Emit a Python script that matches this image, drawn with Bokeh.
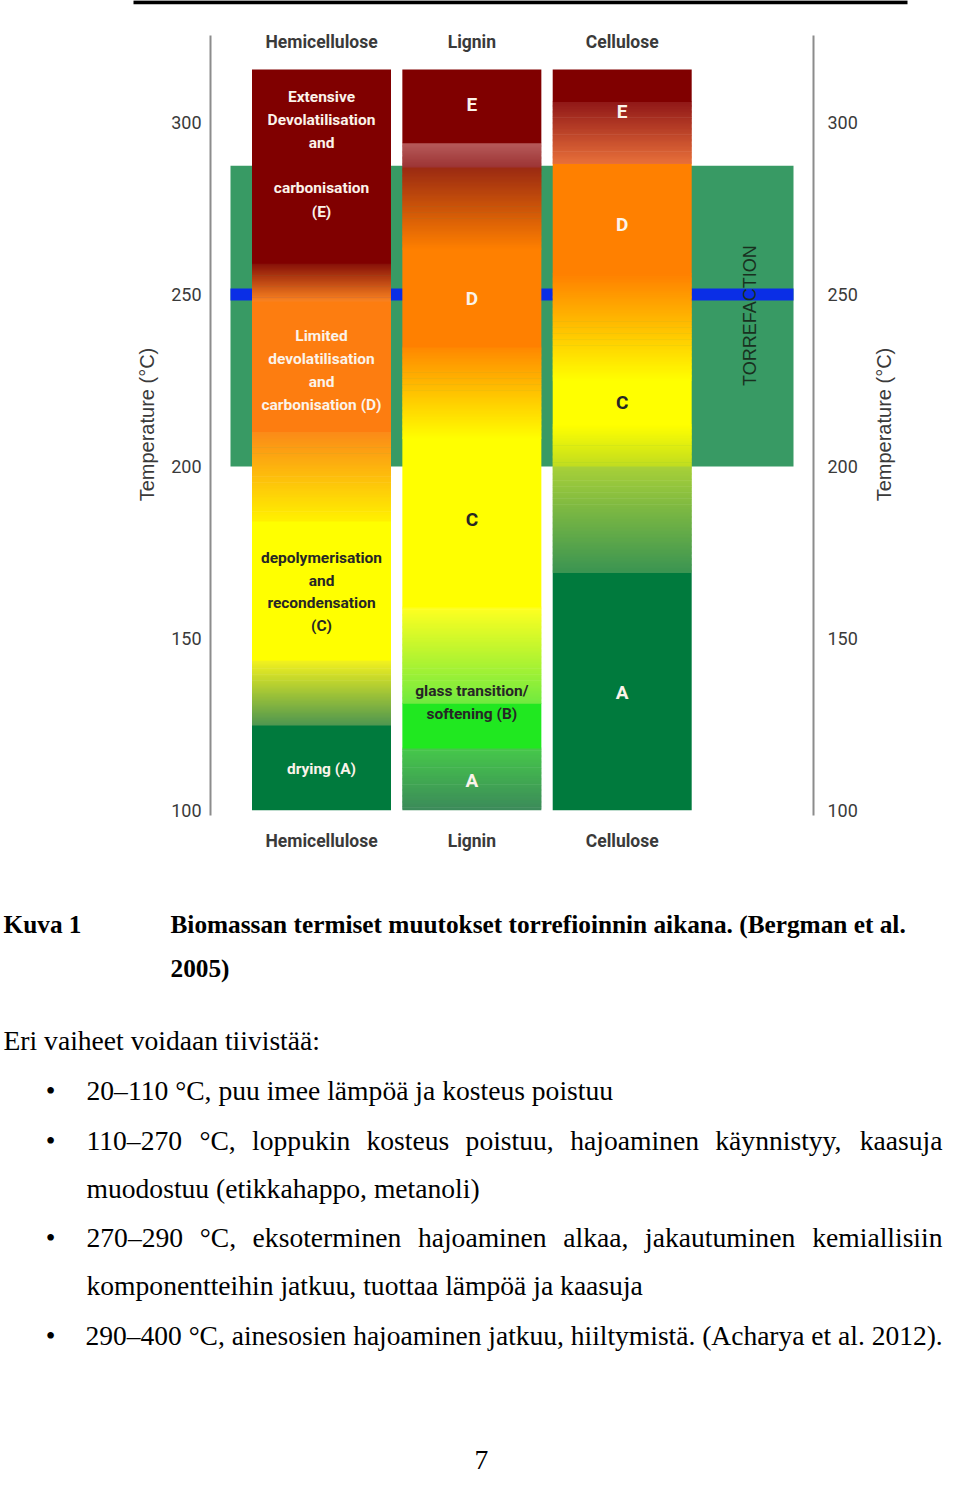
import math
from bokeh.plotting import figure
from bokeh.layouts import column
from bokeh.models import Range1d, ColumnDataSource
from bokeh.core.properties import value
from bokeh.embed import file_html
from bokeh.resources import INLINE

# ------------------------------------------------------------------ data
categories = ["Hemicellulose", "Lignin", "Cellulose"]
temperature_ticks = [100, 150, 200, 250, 300]

# zone boundaries (°C) for each component, bottom to top
hemicellulose_bounds = [100, 124.7, 143.6, 184, 210, 248, 259, 315.5]
lignin_bounds = [100, 118, 131, 159, 208, 234.6, 263, 287, 294, 315.5]
cellulose_bounds = [100, 169, 200, 212, 225, 256, 288, 306, 315.5]

torrefaction_range = [200, 287.5]
marker_temperature = 250

# labels inside the bars: (text, temperature)
hemicellulose_labels = [
    ("Extensive", 307.6), ("Devolatilisation", 300.9), ("and", 294.2),
    ("carbonisation", 280.9), ("(E)", 273.9),
    ("Limited", 238.1), ("devolatilisation", 231.4), ("and", 224.7),
    ("carbonisation (D)", 218.0),
    ("depolymerisation", 173.5), ("and", 166.8), ("recondensation", 160.4),
    ("(C)", 153.5),
    ("drying (A)", 111.9),
]
lignin_labels = [("E", 305.3), ("D", 248.9), ("C", 184.6),
                 ("glass transition/", 134.6), ("softening (B)", 127.9),
                 ("A", 108.7)]
cellulose_labels = [("E", 303.3), ("D", 270.4), ("C", 218.6), ("A", 134.3)]

# ------------------------------------------------------------------ styles
DARK_RED = "#800000"
ORANGE = "#ff8000"
H_ORANGE = "#fd7d10"
YELLOW = "#ffff00"
DARK_GREEN = "#007a3d"
TORR_GREEN = "#389a64"
BLUE = "#0a2ee6"
WHITE_TXT = "#fbf3ea"
DARK_TXT = "#262626"
GREY_TXT = "#3a3a3a"

hemicellulose_colors = [
    (DARK_GREEN, DARK_GREEN), ("#4e9650", "#f4f21e"), (YELLOW, YELLOW),
    ("#fff200", "#fb8a18"), (H_ORANGE, H_ORANGE), ("#fb8420", "#861008"),
    (DARK_RED, DARK_RED),
]
lignin_colors = [
    ("#3c8a5a", "#46c84a"), ("#20e820", "#20e820"), ("#70ea40", "#ffff20"),
    (YELLOW, YELLOW), (YELLOW, "#ff8800"), (ORANGE, ORANGE),
    (ORANGE, "#9a2a12"), ("#9c3434", "#b65a5a"), (DARK_RED, DARK_RED),
]
cellulose_colors = [
    (DARK_GREEN, DARK_GREEN), ("#3a9452", "#a8d038"), ("#c0dc20", YELLOW),
    (YELLOW, YELLOW), (YELLOW, ORANGE), (ORANGE, ORANGE),
    ("#e8703a", "#901818"), (DARK_RED, DARK_RED),
]
hemicellulose_text_colors = [WHITE_TXT] * 9 + [DARK_TXT] * 4 + [WHITE_TXT]
lignin_text_colors = [WHITE_TXT, WHITE_TXT, DARK_TXT, DARK_TXT, DARK_TXT, WHITE_TXT]
cellulose_text_colors = [WHITE_TXT, WHITE_TXT, DARK_TXT, WHITE_TXT]
lignin_text_sizes = ["19px", "19px", "19px", "15.5px", "15.5px", "19px"]

NARROW = "Roboto"
SANS = "Liberation Sans"
SERIF = "Liberation Serif"

# layout (pixels of the page picture)
PX0, PXS = 321.0, 150.35          # bar 0 centre, pixels per category step
def ux(px):
    return (px - PX0) / PXS

BAR_HALF = 69.5 / PXS
W = 944


def hex_rgb(c):
    c = c.lstrip("#")
    return tuple(int(c[i:i + 2], 16) for i in (0, 2, 4))


def mix(c0, c1, f):
    a, b = hex_rgb(c0), hex_rgb(c1)
    return "#%02x%02x%02x" % tuple(int(round(a[i] + (b[i] - a[i]) * f)) for i in range(3))


def zone_source(center, bounds, colors):
    L, R, B, T, C = [], [], [], [], []
    last = len(bounds) - 2
    for i in range(len(bounds) - 1):
        b, t = bounds[i], bounds[i + 1]
        c0, c1 = colors[i]
        ext = 0.0 if i == last else 0.2
        if c0 == c1:
            pieces = [(b, t + ext, c0)]
        else:
            n = max(2, int(round((t - b) / 0.35)))
            h = (t - b) / n
            pieces = []
            for k in range(n):
                top = b + (k + 1) * h
                top = top + 0.2 if (k < n - 1 or ext) else top
                pieces.append((b + k * h, top, mix(c0, c1, (k + 0.5) / n)))
        for pb, pt, pc in pieces:
            L.append(center - BAR_HALF)
            R.append(center + BAR_HALF)
            B.append(pb)
            T.append(pt)
            C.append(pc)
    return ColumnDataSource(dict(left=L, right=R, bottom=B, top=T, color=C))


# ------------------------------------------------------------------ chart figure
H1 = 872
T_TOP = 200 + 466 / 3.438
T_BOT = 200 - (H1 - 466) / 3.438

p = figure(width=W, height=H1, output_backend="svg", toolbar_location=None,
           x_range=Range1d(ux(0), ux(W)), y_range=Range1d(T_BOT, T_TOP),
           x_axis_type=None, y_axis_type=None, min_border=0,
           outline_line_color=None, background_fill_color="white")

# top page rule
p.segment(x0=[ux(133)], x1=[ux(907)], y0=[T_TOP - 0.5], y1=[T_TOP - 0.5],
          line_color="black", line_width=4)

# torrefaction band and marker line
p.quad(left=[ux(230)], right=[ux(793)], bottom=[torrefaction_range[0]],
       top=[torrefaction_range[1]], fill_color=TORR_GREEN, line_color=None)
p.segment(x0=[ux(230)], x1=[ux(793)], y0=[marker_temperature], y1=[marker_temperature],
          line_color=BLUE, line_width=12, line_cap="butt")

# bars
for i, (bounds, cols) in enumerate([(hemicellulose_bounds, hemicellulose_colors),
                                     (lignin_bounds, lignin_colors),
                                     (cellulose_bounds, cellulose_colors)]):
    src = zone_source(i, bounds, cols)
    p.quad(left="left", right="right", bottom="bottom", top="top", source=src,
           fill_color="color", line_color=None)

# axes lines
ax_top = 200 + (466 - 35) / 3.438
ax_bot = 200 - (815 - 466) / 3.438
for xx in (ux(210), ux(813)):
    p.segment(x0=[xx], x1=[xx], y0=[ax_bot], y1=[ax_top], line_color="#8c8c8c", line_width=2)

# tick labels
p.text(x=[ux(201)] * len(temperature_ticks), y=temperature_ticks,
       text=[str(t) for t in temperature_ticks], text_font=value(NARROW),
       text_font_size="18px", text_color=GREY_TXT, text_align="right", text_baseline="middle")
p.text(x=[ux(827)] * len(temperature_ticks), y=temperature_ticks,
       text=[str(t) for t in temperature_ticks], text_font=value(NARROW),
       text_font_size="18px", text_color=GREY_TXT, text_align="left", text_baseline="middle")

# axis titles
for xx in (ux(146), ux(883)):
    p.text(x=[xx], y=[212.2], text=["Temperature (°C)"], angle=math.pi / 2,
           text_font=value(SANS), text_font_size="20px", text_color=GREY_TXT,
           text_align="center", text_baseline="middle")

# category labels top and bottom
for ty in (323.6, 91.2):
    p.text(x=list(range(len(categories))), y=[ty] * len(categories), text=categories,
           text_font=value(NARROW), text_font_size="17.5px", text_font_style="bold",
           text_color=GREY_TXT, text_align="center", text_baseline="middle")

# bar labels
for i, (labs, cols, size) in enumerate([(hemicellulose_labels, hemicellulose_text_colors, "15.5px"),
                                         (lignin_labels, lignin_text_colors, lignin_text_sizes),
                                         (cellulose_labels, cellulose_text_colors, "19px")]):
    src = ColumnDataSource(dict(x=[i] * len(labs), y=[t for _, t in labs],
                                text=[s for s, _ in labs], color=cols,
                                size=size if isinstance(size, list) else [size] * len(labs)))
    p.text(x="x", y="y", text="text", source=src, text_color="color",
           text_font=value(NARROW), text_font_size="size",
           text_font_style="bold", text_align="center", text_baseline="middle")

p.text(x=[ux(749)], y=[243.9], text=["TORREFACTION"], angle=math.pi / 2,
       text_font=value(SANS), text_font_size="18px", text_color="#18301f",
       text_align="center", text_baseline="middle")

# ------------------------------------------------------------------ text figure
H2 = 605
q = figure(width=W, height=H2, output_backend="svg", toolbar_location=None,
           x_range=Range1d(0, W), y_range=Range1d(H1 + H2, H1),
           x_axis_type=None, y_axis_type=None, min_border=0,
           outline_line_color=None, background_fill_color="white")


def put(x, y, s, size="27.6px", bold=False, align="left"):
    q.text(x=[x], y=[y], text=[s], text_font=value(SERIF), text_font_size=size,
           text_font_style="bold" if bold else "normal", text_color="black",
           text_align=align, text_baseline="middle")


put(3, 923, "Kuva 1", "25.3px", True)
put(170, 923, "Biomassan termiset muutokset torrefioinnin aikana. (Bergman et al.", "25.3px", True)
put(170, 967, "2005)", "25.3px", True)
put(3, 1040, "Eri vaiheet voidaan tiivistää:")
for by in (1090, 1140, 1237, 1335):
    put(50, by, "•", align="center")
put(86, 1090, "20–110 °C, puu imee lämpöä ja kosteus poistuu")
for wx, w in [(86, "110–270"), (198.9, "°C,"), (251.6, "loppukin"), (366.0, "kosteus"),
              (465.1, "poistuu,"), (569.7, "hajoaminen"), (714.8, "käynnistyy,")]:
    put(wx, 1140, w)
put(942, 1140, "kaasuja", align="right")
put(86, 1188, "muodostuu (etikkahappo, metanoli)")
for wx, w in [(86, "270–290"), (199.2, "°C,"), (252.1, "eksoterminen"), (417.4, "hajoaminen"),
              (562.8, "alkaa,"), (644.5, "jakautuminen")]:
    put(wx, 1237, w)
put(942, 1237, "kemiallisiin", align="right")
put(86, 1285, "komponentteihin jatkuu, tuottaa lämpöä ja kaasuja")
put(85, 1335, "290–400 °C, ainesosien hajoaminen jatkuu, hiiltymistä. (Acharya et al. 2012).",
    size="27.5px")
put(481, 1459, "7", align="center")

layout = column(p, q, spacing=0)
open("out.html", "w").write(file_html(layout, INLINE))
